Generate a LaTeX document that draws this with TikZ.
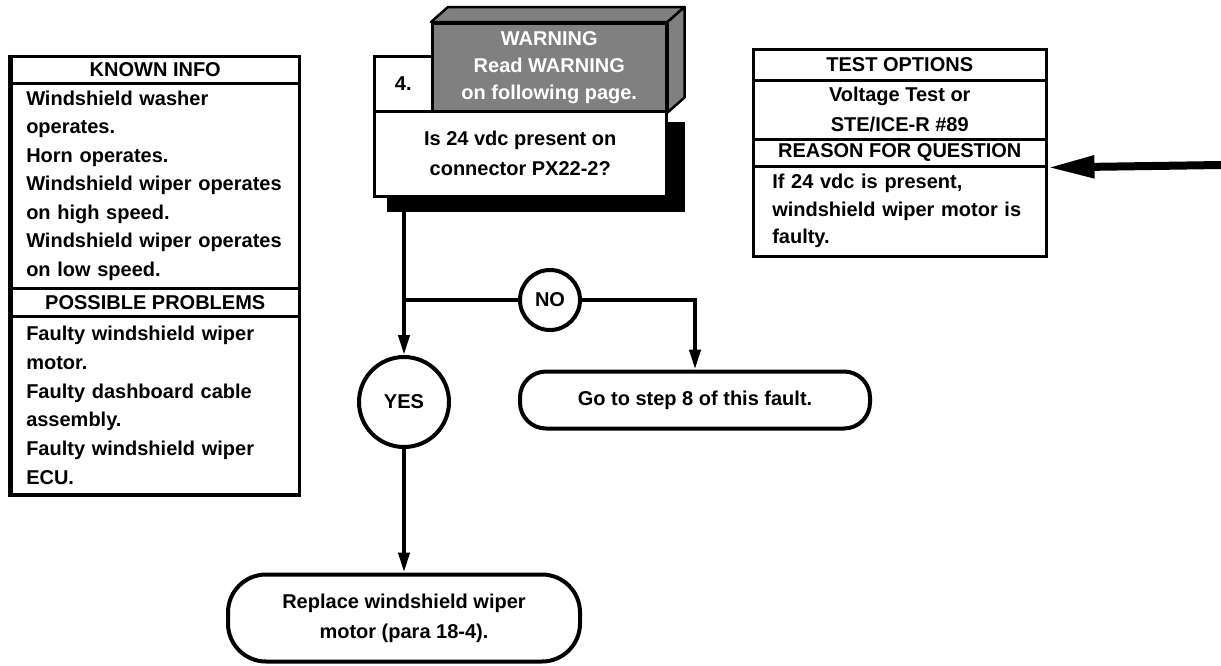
\documentclass[tikz,border=0pt]{standalone}
\usepackage{fontspec}
\setmainfont{Liberation Sans}
\usetikzlibrary{arrows.meta}
\newcommand\chartfont{\fontsize{20}{28.5}\selectfont\bfseries}
\begin{document}
\begin{tikzpicture}[x=1pt,y=-1pt,
  every node/.style={font=\chartfont, inner sep=0pt},
  cell/.style={draw, line width=2.5pt, rectangle, anchor=north west, fill=white},
  head/.style={cell, align=center},
  body/.style={cell, align=left, inner xsep=15pt},
  shade/.style={fill=black!50, draw=black, line width=2.5pt, line join=round},
  line/.style={line width=4pt},
  conn/.style={line width=4pt, -{Triangle[length=20pt,width=11pt]}},
  bigarrow/.style={line width=8pt, -{Triangle[length=47pt,width=21pt]}},
  answer/.style={draw, circle, line width=4pt},
  endbox/.style={draw, rectangle, line width=4pt, align=center},
]
\useasboundingbox (0,0) rectangle (1221,665);

% ---- known info / possible problems column
\node[head, minimum width=288, minimum height=27] (kh) at (10,55) {KNOWN INFO};
\node[body, text width=258, minimum height=205] (kb) at (10,82)
  {Windshield washer\\operates.\\Horn operates.\\Windshield wiper operates\\on high speed.\\Windshield wiper operates\\on low speed.};
\node[head, minimum width=288, minimum height=28] (ph) at (10,287) {POSSIBLE PROBLEMS};
\node[body, text width=258, minimum height=178, font=\fontsize{20}{28.8}\selectfont\bfseries] (pb) at (10,315)
  {Faulty windshield wiper\\motor.\\Faulty dashboard cable\\assembly.\\Faulty windshield wiper\\ECU.};
\draw[line width=3.5pt] (kh.north west) |- (pb.south east);

% ---- test options / reason column
\node[head, minimum width=293, minimum height=31] (th) at (752,48) {TEST OPTIONS};
\node[head, minimum width=293, minimum height=59, font=\fontsize{20}{30}\selectfont\bfseries] (tb) at (752,79) {Voltage Test or\\STE/ICE-R \#89};
\node[head, minimum width=293, minimum height=27] (rh) at (752,138) {REASON FOR QUESTION};
\node[body, text width=255, inner xsep=19pt, minimum height=90, font=\fontsize{20}{27.5}\selectfont\bfseries] (rb) at (752,165)
  {If 24 vdc is present,\\windshield wiper motor is\\faulty.};

% ---- step 4 block with its drop shadow
\node[cell, minimum width=292, minimum height=85, align=center, font=\fontsize{20}{30}\selectfont\bfseries] (qb) at (373,110)
  {Is 24 vdc present on\\connector PX22-2?};
\fill ([shift={(14,0)}]qb.south west) rectangle ([shift={(17,14)}]qb.south east);
\fill ([shift={(0,12)}]qb.north east) rectangle ([shift={(17,14)}]qb.south east);
\node[cell, minimum width=58, minimum height=55] (num) at (373,55) {4.};

% warning block drawn as a small box in oblique view
\node[cell, shade, minimum width=234, minimum height=88, align=center, text=white,
      font=\fontsize{20}{27}\selectfont\bfseries] (wf) at (431,22)
  {WARNING\\Read WARNING\\on following page.};
\draw[shade] (wf.north west) -- ++(17,-15) -- ([shift={(17,-15)}]wf.north east) -- (wf.north east) -- cycle;
\draw[shade] (wf.north east) -- ++(17,-15) -- ([shift={(17,-15)}]wf.south east) -- (wf.south east) -- cycle;

% ---- answers and outcomes
\node[answer, minimum size=90] (yes) at (404,402) {YES};
\node[answer, minimum size=60] (no) at (550,300) {NO};
\node[endbox, minimum width=350, minimum height=57, rounded corners=26pt] (go) at (695,400) {Go to step 8 of this fault.};
\node[endbox, minimum width=352, minimum height=87, rounded corners=38pt, font=\fontsize{20}{30}\selectfont\bfseries] (rep) at (404,618)
  {Replace windshield wiper\\motor (para 18-4).};

\coordinate (qs) at ([shift={(0,14)}]qb.south -| yes.north);
\draw[conn] (qs) -- (yes.north);
\draw[line] (yes.north |- no.west) -- (no.west);
\draw[conn] (no.east) -| (go.north);
\draw[conn] (yes.south) -- (rep.north);

% ---- pointer into the reason column
\coordinate (ra) at (1221,165);
\draw[bigarrow] (ra) -- (rh.south east);
\end{tikzpicture}
\end{document}
